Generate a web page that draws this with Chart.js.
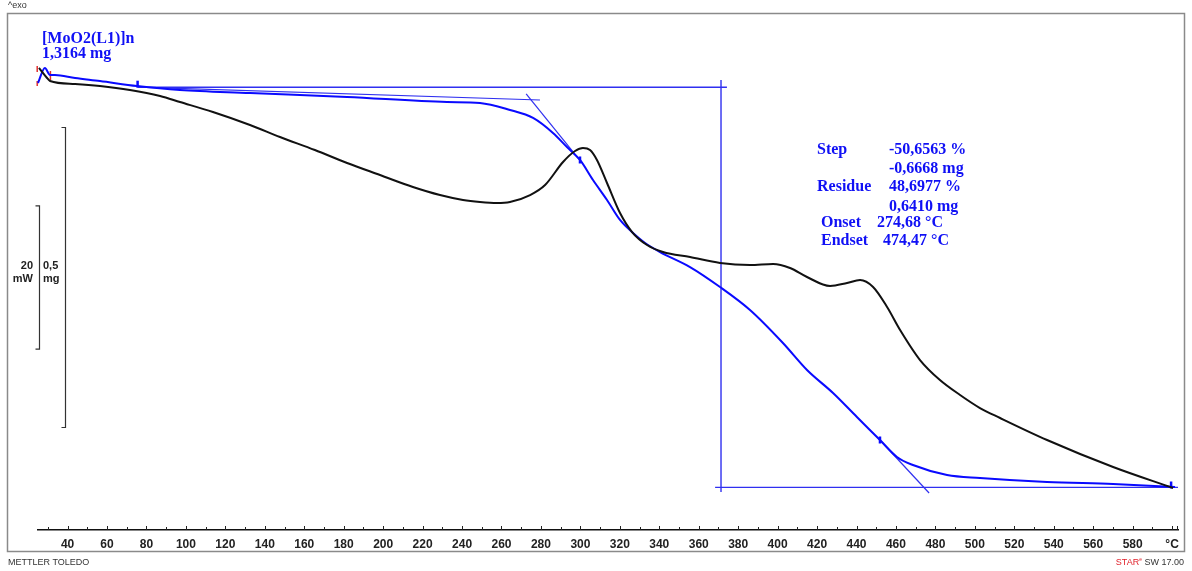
<!DOCTYPE html>
<html>
<head>
<meta charset="utf-8">
<title>[MoO2(L1)]n TGA / DSC</title>
<script src="https://cdn.jsdelivr.net/npm/chart.js@4.4.1/dist/chart.umd.min.js"></script>
<style>
  html, body { margin: 0; padding: 0; background: #ffffff; }
  canvas { display: block; }
</style>
</head>
<body>
<canvas id="c" width="1192" height="571"></canvas>
<script>
// ---- DSC curve (heat flow, mW, exo up) ----
const dscTemperature = [25.5, 29.6, 31.1, 43.8, 56.4, 71.6, 86.9, 97.0, 113.7, 132.5, 147.7, 165.4, 181.7, 198.4, 215.1, 228.8, 240.5, 249.1, 257.7, 264.3, 274.5, 282.1, 291.2, 297.3, 301.3, 304.9, 308.4, 313.5, 320.1, 326.2, 333.8, 341.9, 355.6, 370.8, 386.0, 397.7, 406.3, 414.9, 426.6, 435.2, 441.8, 448.4, 455.5, 462.1, 472.2, 482.3, 492.5, 502.6, 512.8, 536.6, 570.1, 600.5];
const dscHeatFlow = [-7.53, -8.93, -9.35, -9.77, -10.05, -10.60, -11.44, -12.28, -13.68, -15.49, -17.16, -18.98, -20.79, -22.47, -24.14, -25.26, -25.95, -26.23, -26.37, -26.23, -25.26, -23.86, -20.65, -19.12, -18.70, -18.98, -20.37, -23.58, -27.77, -30.42, -32.23, -33.21, -33.91, -34.74, -35.02, -34.88, -35.44, -36.70, -37.95, -37.53, -37.12, -38.09, -40.88, -44.09, -48.28, -51.07, -53.16, -54.98, -56.37, -59.44, -63.21, -66.14];

// ---- TGA curve (mass, mg) ----
const tgaTemperature = [25.0, 28.5, 31.1, 33.6, 43.8, 56.4, 75.2, 97.0, 132.5, 181.7, 232.4, 249.1, 264.3, 276.0, 286.1, 293.2, 299.8, 306.4, 313.5, 320.1, 326.7, 332.8, 340.4, 355.6, 370.8, 386.0, 402.7, 414.9, 428.1, 440.2, 451.9, 460.5, 468.6, 485.9, 502.6, 536.6, 570.1, 601.5];
const tgaMass = [1.3150, 1.3400, 1.3283, 1.3283, 1.3233, 1.3183, 1.3100, 1.3033, 1.2983, 1.2917, 1.2833, 1.2817, 1.2700, 1.2567, 1.2317, 1.2083, 1.1867, 1.1533, 1.1200, 1.0867, 1.0650, 1.0483, 1.0333, 1.0083, 0.9750, 0.9367, 0.8817, 0.8367, 0.7983, 0.7583, 0.7200, 0.6917, 0.6783, 0.6617, 0.6567, 0.6500, 0.6467, 0.6417];

// ---- step evaluation construction lines (mg) ----
const baselineT = [76.0, 279.5];
const baselineM = [1.3080, 1.2867];
const onsetTangentT = [272.5, 300.5];
const onsetTangentM = [1.2967, 1.1833];
const endsetTangentT = [450.9, 476.8];
const endsetTangentM = [0.7233, 0.6317];
const stepTopT = [75.5, 374.3];
const stepTopM = [1.3078, 1.3078];
const stepLineT = [371.3, 371.3];
const stepLineM = [1.3200, 0.6333];
const residueT = [368.3, 603.0];
const residueM = [0.6410, 0.6410];
const markerT = [75.5, 299.8, 451.9, 599.5];
const markerM = [1.3130, 1.1867, 0.7200, 0.6450];
const limitLeftT = [24.6, 24.6];
const limitLeftM = [1.3433, 1.3333];
const limitLeft2M = [1.3183, 1.3100];
const limitRightT = [31.3, 31.3];
const limitRightM = [1.3350, 1.3200];

// ---- x axis ----
const tempMin = 25, tempMax = 603;
const tickStep = 10;
const labelStep = 20;
const unitTick = 600;

// ---- text ----
const sampleName = '[MoO2(L1)]n';
const sampleMass = '1,3164 mg';
const resultRows = [
  ['Step', '-50,6563 %'],
  ['', '-0,6668 mg'],
  ['Residue', '48,6977 %'],
  ['', '0,6410 mg'],
  [' Onset', '274,68 °C'],
  [' Endset', '474,47 °C']
];
const scaleBarHeat = 20;   // mW
const scaleBarMass = 0.5;  // mg

const BLUE = '#1010f5';
const LINE_BLUE = '#3030f0';

function pts(xs, ys) { return xs.map((x, i) => ({ x: x, y: ys[i] })); }

function seg(xs, ys, color, width) {
  return {
    data: pts(xs, ys), yAxisID: 'y', borderColor: color, borderWidth: width,
    pointRadius: 0, tension: 0, fill: false, clip: false
  };
}

// Frame, annotations, scale bars and axis tick marks
const decorations = {
  id: 'decorations',
  beforeDraw(chart) {
    const ctx = chart.ctx;
    ctx.save();
    ctx.fillStyle = '#ffffff';
    ctx.fillRect(0, 0, chart.width, chart.height);
    ctx.restore();
  },
  afterDraw(chart) {
    const ctx = chart.ctx;
    const xs = chart.scales.x, ym = chart.scales.y, yh = chart.scales.y2;
    ctx.save();

    // outer frame
    ctx.strokeStyle = '#8a8a8a';
    ctx.lineWidth = 1.5;
    ctx.strokeRect(7.5, 13.5, 1177, 538);

    // x axis tick marks (pointing up)
    ctx.strokeStyle = '#222';
    ctx.lineWidth = 1;
    const axisY = xs.top;
    for (let t = 30; t <= 600; t += tickStep) {
      const px = Math.round(xs.getPixelForValue(t)) + 0.5;
      const len = (t % labelStep === 0) ? 4 : 3;
      ctx.beginPath();
      ctx.moveTo(px, axisY);
      ctx.lineTo(px, axisY - len);
      ctx.stroke();
    }
    ctx.beginPath();
    ctx.moveTo(xs.right - 0.5, axisY);
    ctx.lineTo(xs.right - 0.5, axisY - 4);
    ctx.stroke();

    // scale bars: 20 mW and 0,5 mg
    const centerY = 277.5;
    const hLen = Math.abs(yh.getPixelForValue(0) - yh.getPixelForValue(scaleBarHeat));
    const mLen = Math.abs(ym.getPixelForValue(1) - ym.getPixelForValue(1 - scaleBarMass));
    ctx.strokeStyle = '#333';
    ctx.lineWidth = 1.2;
    function bracket(x, len) {
      const t = centerY - len / 2, b = centerY + len / 2;
      ctx.beginPath();
      ctx.moveTo(x - 4, t);
      ctx.lineTo(x, t);
      ctx.lineTo(x, b);
      ctx.lineTo(x - 4, b);
      ctx.stroke();
    }
    bracket(39.5, hLen);
    bracket(65.5, mLen);

    ctx.fillStyle = '#222';
    ctx.font = 'bold 11px "Liberation Sans", Arial, sans-serif';
    ctx.textBaseline = 'middle';
    ctx.textAlign = 'right';
    ctx.fillText(String(scaleBarHeat), 33, 266);
    ctx.fillText('mW', 33, 279);
    ctx.textAlign = 'left';
    ctx.fillText(String(scaleBarMass).replace('.', ','), 43, 266);
    ctx.fillText('mg', 43, 279);

    // exo marker
    ctx.font = '9px "Liberation Sans", Arial, sans-serif';
    ctx.fillStyle = '#333';
    ctx.fillText('^exo', 8, 6);

    // sample name / mass
    ctx.fillStyle = BLUE;
    ctx.font = 'bold 16px "Liberation Serif", "Times New Roman", serif';
    ctx.textBaseline = 'alphabetic';
    ctx.fillText(sampleName, 42, 43);
    ctx.fillText(sampleMass, 42, 58);

    // step evaluation results
    const rowY = [150, 169, 187, 207, 223, 241];
    const valX = [889, 889, 889, 889, 877, 883];
    ctx.textBaseline = 'middle';
    resultRows.forEach((r, i) => {
      if (r[0]) ctx.fillText(r[0].trim(), r[0].startsWith(' ') ? 821 : 817, rowY[i]);
      ctx.fillText(r[1], valX[i], rowY[i]);
    });

    // footer
    ctx.font = '9px "Liberation Sans", Arial, sans-serif';
    ctx.fillStyle = '#333';
    ctx.textAlign = 'left';
    ctx.fillText('METTLER TOLEDO', 8, 563);
    ctx.textAlign = 'right';
    const swText = ' SW 17.00';
    const swW = ctx.measureText(swText).width;
    ctx.fillText(swText, 1184, 563);
    ctx.font = '5px "Liberation Sans", Arial, sans-serif';
    const eW = ctx.measureText('e').width;
    ctx.fillStyle = '#e0202a';
    ctx.fillText('e', 1184 - swW, 560);
    ctx.font = '9px "Liberation Sans", Arial, sans-serif';
    ctx.fillText('STAR', 1184 - swW - eW, 563);

    ctx.restore();
  }
};

new Chart(document.getElementById('c'), {
  type: 'line',
  data: {
    datasets: [
      {
        label: 'Heat flow',
        data: pts(dscTemperature, dscHeatFlow),
        yAxisID: 'y2',
        borderColor: '#111111',
        borderWidth: 2,
        pointRadius: 0,
        cubicInterpolationMode: 'monotone',
        fill: false,
        clip: false
      },
      {
        label: 'Mass',
        data: pts(tgaTemperature, tgaMass),
        yAxisID: 'y',
        borderColor: '#0a0aff',
        borderWidth: 2,
        pointRadius: 0,
        cubicInterpolationMode: 'monotone',
        fill: false,
        clip: false
      },
      seg(baselineT, baselineM, LINE_BLUE, 1.2),
      seg(onsetTangentT, onsetTangentM, LINE_BLUE, 1.2),
      seg(endsetTangentT, endsetTangentM, LINE_BLUE, 1.2),
      seg(stepTopT, stepTopM, LINE_BLUE, 1.4),
      seg(stepLineT, stepLineM, LINE_BLUE, 1.4),
      seg(residueT, residueM, LINE_BLUE, 1.4),
      seg(limitLeftT, limitLeftM, '#e03030', 1.5),
      seg(limitLeftT, limitLeft2M, '#e03030', 1.5),
      seg(limitRightT, limitRightM, '#e03030', 1.5),
      {
        label: 'Limits',
        data: pts(markerT, markerM),
        yAxisID: 'y',
        showLine: false,
        pointStyle: 'line',
        rotation: 90,
        pointRadius: 3.5,
        pointBorderWidth: 2.5,
        pointBorderColor: '#0a0aff',
        clip: false
      }
    ]
  },
  options: {
    responsive: false,
    devicePixelRatio: 1,
    animation: false,
    events: [],
    layout: { padding: { left: 38, right: 14, top: 14, bottom: 0 } },
    plugins: { legend: { display: false }, tooltip: { enabled: false } },
    scales: {
      x: {
        type: 'linear',
        min: tempMin,
        max: tempMax,
        afterFit(scale) { scale.height = 41; },
        grid: { display: false, drawTicks: false },
        border: { display: true, color: '#111', width: 1.5 },
        ticks: {
          stepSize: tickStep,
          includeBounds: false,
          autoSkip: false,
          maxRotation: 0,
          padding: 7,
          color: '#222',
          font: { family: '"Liberation Sans", Arial, sans-serif', size: 12, weight: 'bold' },
          callback(v) {
            if (v === unitTick) return '°C';
            return v % labelStep === 0 ? String(v) : '';
          }
        }
      },
      y: { type: 'linear', display: false, min: 0.57, max: 1.43 },
      y2: { type: 'linear', display: false, min: -72, max: 0 }
    }
  },
  plugins: [decorations]
});
</script>
</body>
</html>
